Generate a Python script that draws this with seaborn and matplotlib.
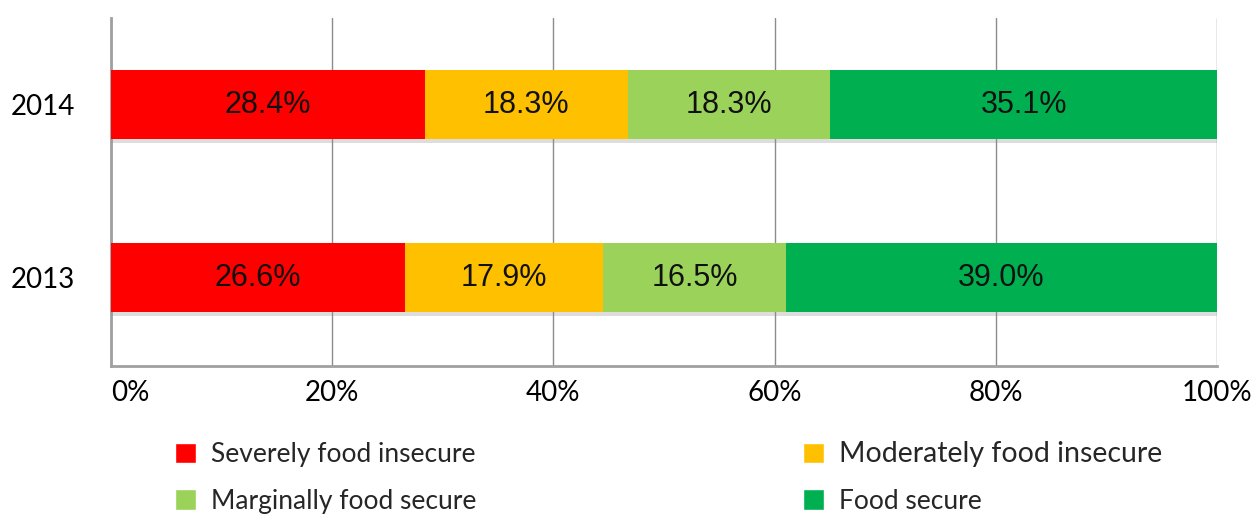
import matplotlib
matplotlib.use("Agg")
import matplotlib.pyplot as plt
import matplotlib.patheffects as pe
from matplotlib.patches import Patch
from matplotlib.ticker import FuncFormatter
import seaborn as sns
import numpy as np

years = ["2014", "2013"]
categories = ["Severely food insecure", "Moderately food insecure",
              "Marginally food secure", "Food secure"]
severe = [28.4, 26.6]
moderate = [18.3, 17.9]
marginal = [18.3, 16.5]
secure = [35.1, 39.0]
x_ticks = [0, 20, 40, 60, 80, 100]

colors = ["#FF0000", "#FFC000", "#9BD35A", "#00B050"]

sns.set_theme(style="white")
plt.rcParams["font.family"] = ["Lato", "DejaVu Sans"]

fig = plt.figure(figsize=(12.53, 5.16), dpi=100)
ax = fig.add_axes([111 / 1253, 1 - 366 / 516, (1217 - 111) / 1253, (366 - 18) / 516])

series = [severe, moderate, marginal, secure]
cum = np.cumsum(np.array(series), axis=0)

# stacked bars: draw running totals from the longest down so each segment shows
for i in reversed(range(len(series))):
    sns.barplot(x=cum[i], y=years, color=colors[i], orient="h", width=0.4,
                saturation=1, ax=ax, zorder=3, linewidth=0, edgecolor="none")

# soft drop shadow under the full-length bars
for bar in ax.patches[:len(years)]:
    bar.set_path_effects([pe.SimplePatchShadow(offset=(0, -3), shadow_rgbFace="#909090", alpha=0.3),
                          pe.Normal()])

# segment value labels centred in each segment
for i, vals in enumerate(series):
    starts = cum[i] - np.array(vals)
    for j, v in enumerate(vals):
        ax.text(starts[j] + v / 2, j, f"{v:.1f}%", ha="center", va="center",
                fontsize=22, color="#111111", family="Liberation Sans", zorder=5)

ax.set_xlim(0, 100)
ax.set_ylim(1.51, -0.5)
ax.set_xticks(x_ticks)
ax.xaxis.set_major_formatter(FuncFormatter(lambda v, _: f"{v:.0f}%"))
ax.grid(axis="x", color="#8C8C8C", linewidth=1.0, zorder=0)
ax.set_axisbelow(True)
ax.set_xlabel("")
ax.set_ylabel("")
ax.tick_params(axis="x", labelsize=20, pad=10, length=0, colors="black")
ax.tick_params(axis="y", labelsize=20, pad=26, length=0, colors="black")
# first x label sits just inside the axis start
ax.get_xticklabels()[0].set_horizontalalignment("left")

for side in ["top", "right"]:
    ax.spines[side].set_visible(False)
for side in ["left", "bottom"]:
    ax.spines[side].set_color("#A0A0A0")
    ax.spines[side].set_linewidth(2)

handles = [Patch(facecolor=colors[0], label=categories[0]),
           Patch(facecolor=colors[2], label=categories[2]),
           Patch(facecolor=colors[1], label=categories[1]),
           Patch(facecolor=colors[3], label=categories[3])]
leg = fig.legend(handles=handles, loc="upper left", bbox_to_anchor=(175 / 1253, 1 - 441 / 516),
                 ncol=2, frameon=False, fontsize=19, handlelength=0.8, handleheight=0.8,
                 handletextpad=0.55, columnspacing=12.4, labelspacing=0.82,
                 borderpad=0, borderaxespad=0)
leg.get_texts()[2].set_fontsize(20.5)

fig.savefig("out.png", dpi=100)
